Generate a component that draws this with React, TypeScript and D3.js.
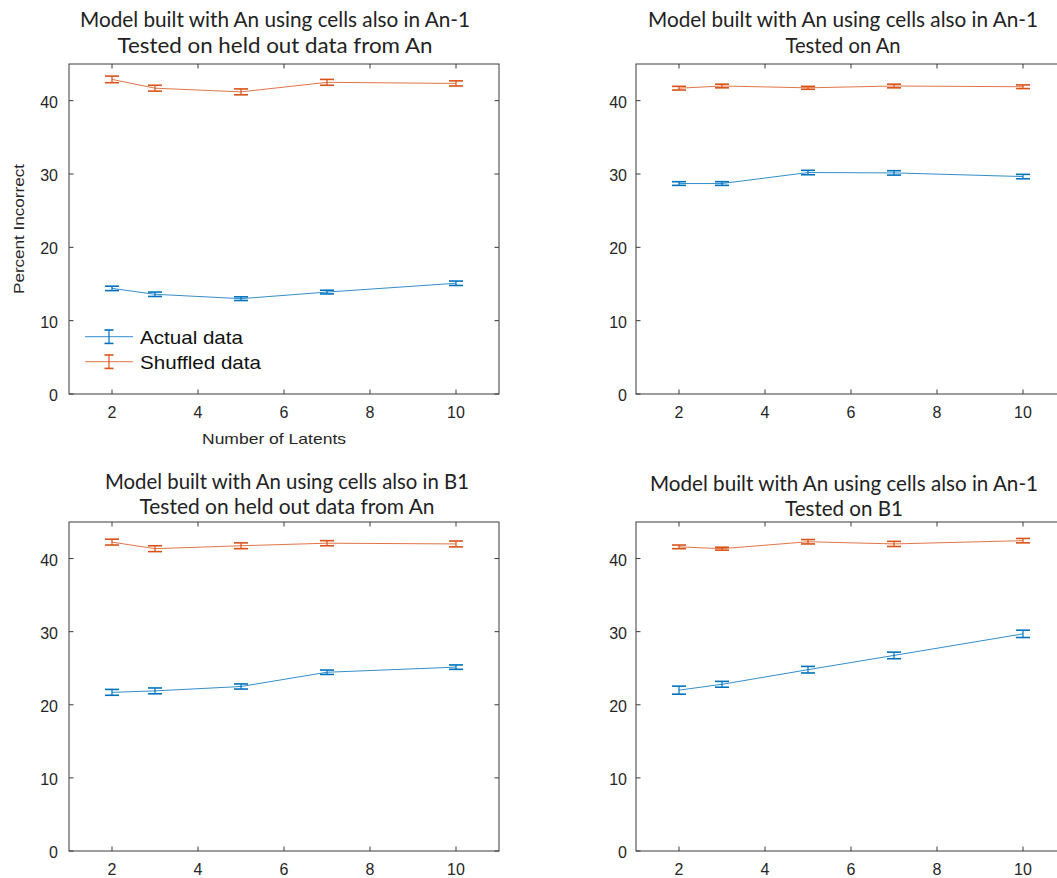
import React from "react";
import * as d3 from "d3";

const latents = [2, 3, 5, 7, 10];
const xTicks = [2, 4, 6, 8, 10];
const yTicks = [0, 10, 20, 30, 40];

const tlActual = [14.4, 13.6, 13.0, 13.9, 15.1];
const tlActualErr = [0.3, 0.3, 0.25, 0.25, 0.3];
const tlShuffled = [42.9, 41.7, 41.2, 42.5, 42.35];
const tlShuffledErr = [0.45, 0.4, 0.4, 0.4, 0.35];

const trActual = [28.7, 28.7, 30.2, 30.15, 29.65];
const trActualErr = [0.25, 0.25, 0.3, 0.3, 0.3];
const trShuffled = [41.7, 42.0, 41.75, 42.0, 41.9];
const trShuffledErr = [0.25, 0.25, 0.2, 0.25, 0.25];

const blActual = [21.7, 21.9, 22.5, 24.45, 25.15];
const blActualErr = [0.4, 0.4, 0.35, 0.3, 0.3];
const blShuffled = [42.25, 41.35, 41.75, 42.1, 42.0];
const blShuffledErr = [0.4, 0.4, 0.4, 0.35, 0.4];

const brActual = [22.0, 22.8, 24.8, 26.75, 29.7];
const brActualErr = [0.55, 0.4, 0.45, 0.45, 0.5];
const brShuffled = [41.6, 41.35, 42.3, 42.0, 42.45];
const brShuffledErr = [0.25, 0.2, 0.3, 0.35, 0.3];

const seriesNames = ["Actual data", "Shuffled data"];

const BLUE = "#0072BD";
const ORANGE = "#D95319";
const AXIS = "#3a3a3a";
const TICKFONT = "'Liberation Sans', Arial, Helvetica, sans-serif";
const TITLEFONT = "Lato, 'Open Sans', sans-serif";

type PanelProps = {
  left: number;
  top: number;
  width: number;
  height: number;
  actual: number[];
  actualErr: number[];
  shuffled: number[];
  shuffledErr: number[];
  title1: string;
  title2: string;
  titleX: number;
  titleY1: number;
  titleY2: number;
  titleW1: number;
  titleW2: number;
  yGap: number;
  labels?: boolean;
};

function Series({ xs, ys, es, color, x, y }: any) {
  const line = d3
    .line<number>()
    .x((_, i) => x(xs[i]))
    .y((d) => y(d));
  return (
    <g>
      <path d={line(ys) || ""} fill="none" stroke={color} strokeWidth={1} strokeOpacity={0.8} />
      {ys.map((v: number, i: number) => {
        const cx = x(xs[i]);
        const y1 = y(v + es[i]);
        const y2 = y(v - es[i]);
        return (
          <g key={i} stroke={color} strokeWidth={1.6}>
            <line x1={cx} x2={cx} y1={y1} y2={y2} strokeWidth={1.2} />
            <line x1={cx - 7} x2={cx + 7} y1={y1} y2={y1} />
            <line x1={cx - 7} x2={cx + 7} y1={y2} y2={y2} />
          </g>
        );
      })}
    </g>
  );
}

function Panel(p: PanelProps) {
  const x = d3.scaleLinear().domain([1, 11]).range([p.left, p.left + p.width]);
  const y = d3.scaleLinear().domain([0, 45]).range([p.top + p.height, p.top]);
  const bottom = p.top + p.height;
  const right = p.left + p.width;
  const tl = 4.5;
  return (
    <g>
      <text
        x={p.titleX}
        y={p.titleY1}
        textAnchor="middle"
        fontFamily={TITLEFONT}
        fontSize={21}
        fill="#222"
        textLength={p.titleW1}
        lengthAdjust="spacingAndGlyphs"
      >
        {p.title1}
      </text>
      <text
        x={p.titleX}
        y={p.titleY2}
        textAnchor="middle"
        fontFamily={TITLEFONT}
        fontSize={21}
        fill="#222"
        textLength={p.titleW2}
        lengthAdjust="spacingAndGlyphs"
      >
        {p.title2}
      </text>
      <Series xs={latents} ys={p.actual} es={p.actualErr} color={BLUE} x={x} y={y} />
      <Series xs={latents} ys={p.shuffled} es={p.shuffledErr} color={ORANGE} x={x} y={y} />
      <rect x={p.left} y={p.top} width={p.width} height={p.height} fill="none" stroke={AXIS} strokeWidth={1} />
      {xTicks.map((t) => (
        <g key={"x" + t}>
          <line x1={x(t)} x2={x(t)} y1={bottom} y2={bottom - tl} stroke={AXIS} />
          <line x1={x(t)} x2={x(t)} y1={p.top} y2={p.top + tl} stroke={AXIS} />
          <text x={x(t)} y={bottom + 24} textAnchor="middle" fontFamily={TICKFONT} fontSize={16} fill="#262626">
            {t}
          </text>
        </g>
      ))}
      {yTicks.map((t) => (
        <g key={"y" + t}>
          <line x1={p.left} x2={p.left + tl} y1={y(t)} y2={y(t)} stroke={AXIS} />
          <line x1={right} x2={right - tl} y1={y(t)} y2={y(t)} stroke={AXIS} />
          <text x={p.left - p.yGap} y={y(t) + 7} textAnchor="end" fontFamily={TICKFONT} fontSize={16} fill="#262626">
            {t}
          </text>
        </g>
      ))}
      {p.labels && (
        <g>
          <text
            x={274}
            y={bottom + 50}
            textAnchor="middle"
            fontFamily={TICKFONT}
            fontSize={15}
            fill="#262626"
            textLength={144}
            lengthAdjust="spacingAndGlyphs"
          >
            Number of Latents
          </text>
          <text
            transform={`translate(24, ${p.top + p.height / 2}) rotate(-90)`}
            textAnchor="middle"
            fontFamily={TICKFONT}
            fontSize={15}
            fill="#262626"
            textLength={130}
            lengthAdjust="spacingAndGlyphs"
          >
            Percent Incorrect
          </text>
          {[BLUE, ORANGE].map((c, i) => {
            const ly = 336.7 + i * 25;
            return (
              <g key={c}>
                <line x1={85} x2={133} y1={ly} y2={ly} stroke={c} strokeWidth={1} strokeOpacity={0.8} />
                <g stroke={c} strokeWidth={1.6}>
                  <line x1={109} x2={109} y1={ly - 6.7} y2={ly + 6.7} strokeWidth={1.2} />
                  <line x1={104.5} x2={113.5} y1={ly - 6.7} y2={ly - 6.7} />
                  <line x1={104.5} x2={113.5} y1={ly + 6.7} y2={ly + 6.7} />
                </g>
                <text
                  x={140}
                  y={ly + 6.8}
                  fontFamily={TICKFONT}
                  fontSize={19}
                  fill="#111"
                  textLength={i === 0 ? 103 : 121}
                  lengthAdjust="spacingAndGlyphs"
                >
                  {seriesNames[i]}
                </text>
              </g>
            );
          })}
        </g>
      )}
    </g>
  );
}

export default function App() {
  return (
    <svg
      width={1057}
      height={878}
      style={{ position: "absolute", left: 0, top: 0, background: "#fff" }}
    >
      <rect x={0} y={0} width={1057} height={878} fill="#fff" />
      <Panel
        left={69}
        top={64}
        width={430}
        height={330}
        actual={tlActual}
        actualErr={tlActualErr}
        shuffled={tlShuffled}
        shuffledErr={tlShuffledErr}
        title1="Model built with An using cells also in An-1"
        title2="Tested on held out data from An"
        titleX={275}
        titleY1={27}
        titleY2={53}
        titleW1={390}
        titleW2={315}
        yGap={11}
        labels
      />
      <Panel
        left={636}
        top={64}
        width={430}
        height={330}
        actual={trActual}
        actualErr={trActualErr}
        shuffled={trShuffled}
        shuffledErr={trShuffledErr}
        title1="Model built with An using cells also in An-1"
        title2="Tested on An"
        titleX={843}
        titleY1={27}
        titleY2={53}
        titleW1={390}
        titleW2={115}
        yGap={9}
      />
      <Panel
        left={69}
        top={522}
        width={430}
        height={329}
        actual={blActual}
        actualErr={blActualErr}
        shuffled={blShuffled}
        shuffledErr={blShuffledErr}
        title1="Model built with An using cells also in B1"
        title2="Tested on held out data from An"
        titleX={287}
        titleY1={489}
        titleY2={514}
        titleW1={364}
        titleW2={295}
        yGap={11}
      />
      <Panel
        left={636}
        top={522}
        width={430}
        height={329}
        actual={brActual}
        actualErr={brActualErr}
        shuffled={brShuffled}
        shuffledErr={brShuffledErr}
        title1="Model built with An using cells also in An-1"
        title2="Tested on B1"
        titleX={844}
        titleY1={491}
        titleY2={516}
        titleW1={388}
        titleW2={118}
        yGap={9}
      />
    </svg>
  );
}
